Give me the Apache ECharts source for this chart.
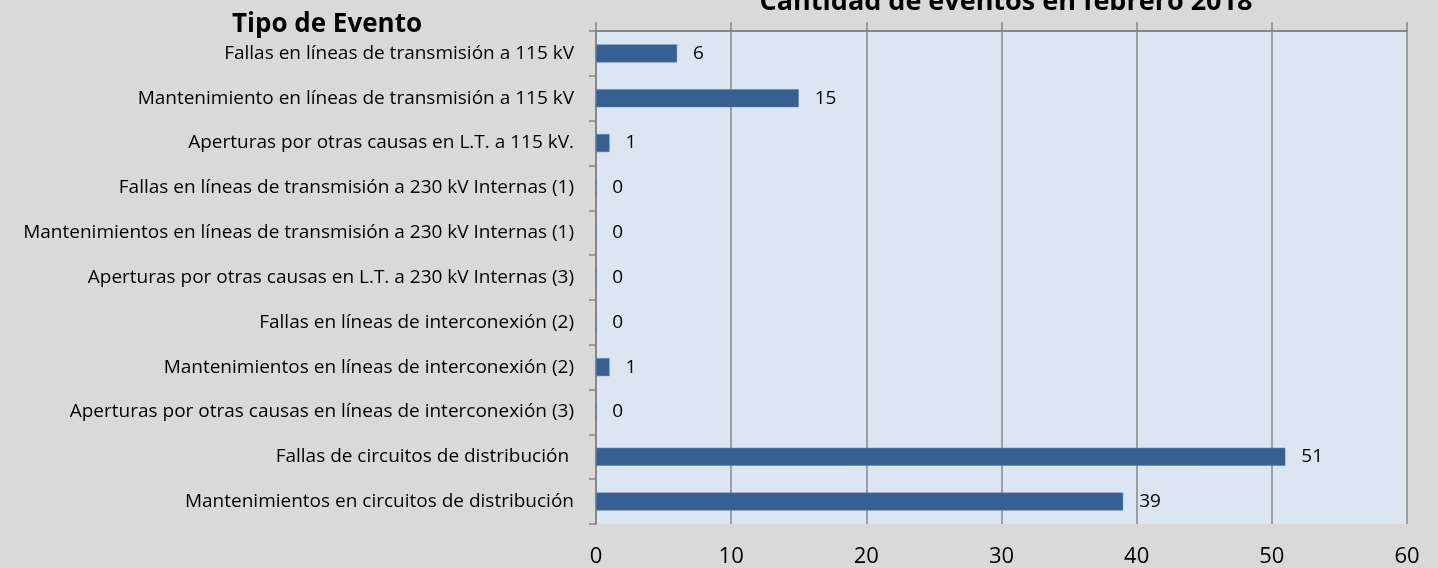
<!DOCTYPE html>
<html><head><meta charset="utf-8">
<script src="https://cdn.jsdelivr.net/npm/echarts@6/dist/echarts.min.js"></script>
<style>html,body{margin:0;padding:0;background:#d9d9d9}#c{width:1438px;height:568px}</style>
</head><body><div id="c"></div>
<script>
const categories = [
  "Fallas en líneas de transmisión a 115 kV",
  "Mantenimiento en líneas de transmisión a 115 kV",
  "Aperturas por otras causas en L.T. a 115 kV.",
  "Fallas en líneas de transmisión a 230 kV Internas (1)",
  "Mantenimientos en líneas de transmisión a 230 kV Internas (1)",
  "Aperturas por otras causas en L.T. a 230 kV Internas (3)",
  "Fallas en líneas de interconexión (2)",
  "Mantenimientos en líneas de interconexión (2)",
  "Aperturas por otras causas en líneas de interconexión (3)",
  "Fallas de circuitos de distribución ",
  "Mantenimientos en circuitos de distribución"
];
const values = [6, 15, 1, 0, 0, 0, 0, 1, 0, 51, 39];
const xTicks = [0, 10, 20, 30, 40, 50, 60];
const titleText = "Cantidad de eventos en febrero 2018";
const axisTitle = "Tipo de Evento";

const chart = echarts.init(document.getElementById('c'));
const FONT = "'Open Sans', sans-serif";
chart.setOption({
  backgroundColor: '#d9d9d9',
  animation: false,
  title: [
    {text: titleText, left: 1001, textAlign: 'center', top: -16,
     textStyle: {fontFamily: FONT, fontWeight: 'bold', fontSize: 27, color: '#000'}},
    {text: axisTitle, left: 322, textAlign: 'center', top: 7,
     textStyle: {fontFamily: FONT, fontWeight: 'bold', fontSize: 26, color: '#000'}}
  ],
  grid: {left: 596, right: 31, top: 31, bottom: 43, show: true,
         backgroundColor: '#dce6f2', borderWidth: 0},
  xAxis: [
    {type: 'value', min: xTicks[0], max: xTicks[xTicks.length-1], interval: 10, position: 'bottom',
     axisLine: {show: false}, axisTick: {show: false},
     splitLine: {show: true, lineStyle: {color: '#878787', width: 1.5}},
     axisLabel: {fontFamily: FONT, fontSize: 22, color: '#000', margin: 22}},
    {type: 'value', min: xTicks[0], max: xTicks[xTicks.length-1], interval: 10, position: 'top',
     axisLine: {show: true, lineStyle: {color: '#878787', width: 2}},
     axisTick: {show: true, length: 9, lineStyle: {color: '#878787', width: 1.5}},
     splitLine: {show: false}, axisLabel: {show: false}}
  ],
  yAxis: {
    type: 'category', data: categories, inverse: true,
    axisLine: {show: true, lineStyle: {color: '#878787', width: 2}},
    axisTick: {show: true, length: 7, lineStyle: {color: '#878787', width: 1.5}},
    axisLabel: {fontFamily: FONT, fontSize: 19, color: '#000', margin: 22}
  },
  series: [{
    type: 'bar', data: values, barWidth: 18, xAxisIndex: 0,
    itemStyle: {color: '#376092', borderColor: '#5a7fad', borderWidth: 0.5},
    label: {show: true, position: 'right', distance: 16, fontFamily: FONT, fontSize: 19, color: '#000'}
  }]
});
</script></body></html>
